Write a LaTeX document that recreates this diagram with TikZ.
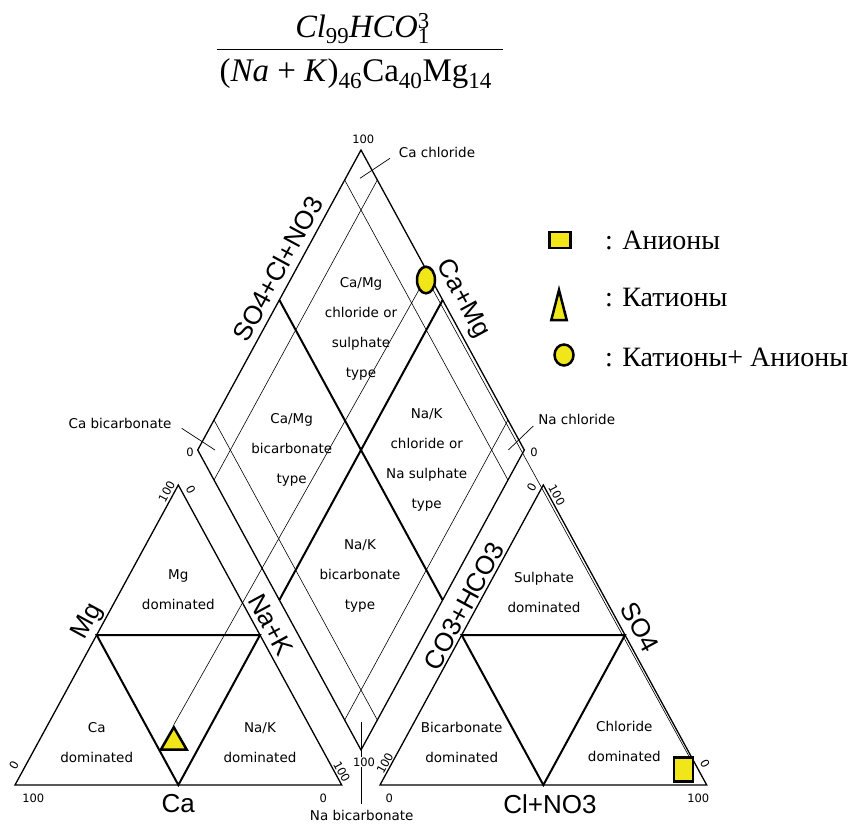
\documentclass[tikz,border=0pt]{standalone}
\usepackage{fontspec}
\setmainfont{Liberation Serif}
\newfontfamily\axisfont{Liberation Sans}
\newfontfamily\zonefont{DejaVu Sans}
\usepackage{tikz}
\usetikzlibrary{positioning,calc,shapes.geometric}
\definecolor{markfill}{HTML}{F0E619}

\begin{document}
\begin{tikzpicture}[
      x=1pt,y=-1pt,
      rim/.style={draw=black,line width=1.3pt,line join=miter},
      half/.style={draw=black,line width=2pt},
      tenth/.style={draw=black,line width=0.6pt},
      proj/.style={draw=black,line width=0.6pt},
      lead/.style={draw=black,line width=0.7pt},
      axlabel/.style={font=\axisfont\fontsize{26}{26}\selectfont,inner sep=0pt},
      zone/.style={font=\zonefont\fontsize{13.5}{30}\selectfont,inner sep=0pt,align=center},
      num/.style={font=\zonefont\fontsize{11.5}{11.5}\selectfont,inner sep=1pt},
      callout/.style={font=\zonefont\fontsize{13.5}{13.5}\selectfont,inner sep=1pt},
      datum/.style={draw=black,line width=2.5pt,fill=markfill,inner sep=0pt},
      legtxt/.style={font=\fontsize{28}{28}\selectfont,anchor=west,inner sep=0pt}
    ]
    \useasboundingbox (0,0) rectangle (859,825);

    \node[font=\fontsize{32.5}{32.5}\selectfont,anchor=base] (numer) at (362.5,37.3)
      {\textit{Cl}\textsubscript{99}\textit{HCO}\rlap{\textsuperscript{3}}\textsubscript{1}};
    \node[font=\fontsize{33}{33}\selectfont,anchor=base] (denom) at (355.8,81.7)
      {(\textit{Na} + \textit{K})\textsubscript{46}Ca\textsubscript{40}Mg\textsubscript{14}};
    \coordinate (barL) at (216.7,49.3);
    \coordinate (barR) at (503.3,49.3);
    \draw[line width=1pt] (barL) -- (barR);

    \coordinate (cL) at (15,785);
    \coordinate (cR) at (341.7,785);
    \coordinate (cT) at (178.3,485);
    \coordinate (aL) at (380,785);
    \coordinate (aR) at (706.7,785);
    \coordinate (aT) at (543.3,485);
    \coordinate (dT) at (361,150);
    \coordinate (dB) at (361,750);
    \coordinate (dL) at (197.7,450);
    \coordinate (dR) at (524.3,450);

    \foreach \k in {0.1,0.9} {
      \draw[tenth] ($(dL)!\k!(dT)$) -- ($(dB)!\k!(dR)$);
      \draw[tenth] ($(dL)!\k!(dB)$) -- ($(dT)!\k!(dR)$);
    }
    \draw[half] ($(dL)!0.5!(dT)$) -- ($(dB)!0.5!(dR)$);
    \draw[half] ($(dL)!0.5!(dB)$) -- ($(dT)!0.5!(dR)$);
    \draw[rim] (dT) -- (dR) -- (dB) -- (dL) -- cycle;

    \draw[half] ($(cL)!.5!(cT)$) -- ($(cR)!.5!(cT)$) -- ($(cL)!.5!(cR)$) -- cycle;
    \draw[rim] (cL) -- (cR) -- (cT) -- cycle;
    \draw[half] ($(aL)!.5!(aT)$) -- ($(aR)!.5!(aT)$) -- ($(aL)!.5!(aR)$) -- cycle;
    \draw[rim] (aL) -- (aR) -- (aT) -- cycle;

    \node[zone] (zcacl) at (361,328.7) {Ca/Mg\\chloride or\\sulphate\\type};
    \node[zone] (zcabic) at (291.7,450) {Ca/Mg\\bicarbonate\\type};
    \node[zone] (znacl) at (426.7,459.7) {Na/K\\chloride or\\Na sulphate\\type};
    \node[zone] (znabic) at (360,575.5) {Na/K\\bicarbonate\\type};
    \node[zone] (zmg) at (178.3,590) {Mg\\dominated};
    \node[zone] (zca) at (96.7,743) {Ca\\dominated};
    \node[zone] (znak) at (260,743) {Na/K\\dominated};
    \node[zone] (zso) at (544,592) {Sulphate\\dominated};
    \node[zone] (zbic) at (461.7,742.5) {Bicarbonate\\dominated};
    \node[zone] (zcl) at (624.3,741.3) {Chloride\\dominated};

    \node[axlabel,rotate=61.5] (xanion) at (278,269) {SO4+Cl+NO3};
    \node[axlabel,rotate=-61.5] (xcation) at (462.5,299) {Ca+Mg};
    \node[axlabel,rotate=61.5] (xmg) at (88,622) {Mg};
    \node[axlabel,rotate=-61.5] (xnak) at (271,625) {Na+K};
    \node[axlabel,rotate=61.5] (xcarb) at (464,606) {CO3+HCO3};
    \node[axlabel,rotate=-61.5] (xso) at (640,627) {SO4};
    \node[axlabel] (xca) at (178.3,804) {Ca};
    \node[axlabel] (xcl) at (550,804) {Cl+NO3};

    \node[num] (nTop) at (363.3,139) {100};
    \node[num] (nLft) at (190,452) {0};
    \node[num] (nRgt) at (534,452) {0};
    \node[num,rotate=61.5] (c100a) at (166.7,491.7) {100};
    \node[num,rotate=-61.5] (c0a) at (190.7,490) {0};
    \node[num,rotate=61.5] (c0b) at (14,765) {0};
    \node[num] (c100b) at (33.3,798.3) {100};
    \node[num] (c0c) at (323.3,798.3) {0};
    \node[num,rotate=-61.5] (c100c) at (341.7,771.7) {100};
    \node[num,rotate=61.5] (a0a) at (531.7,487) {0};
    \node[num,rotate=-61.5] (a100a) at (556.7,495) {100};
    \node[num,rotate=61.5] (a100b) at (385,763.3) {100};
    \node[num] (a0b) at (389.3,798.3) {0};
    \node[num] (a100c) at (698.3,798.3) {100};
    \node[num,rotate=-61.5] (a0c) at (705,763.3) {0};

    \node[callout] (tcacl) at (437,152.7) {Ca chloride};
    \node[callout] (tcabic) at (120,423) {Ca bicarbonate};
    \node[callout] (tnacl) at (576.7,419) {Na chloride};
    \node[callout] (tnabic) at (361.7,815) {Na bicarbonate};
    \coordinate (pcacl1) at (390,158.3);
    \coordinate (pcacl2) at (360,178.3);
    \coordinate (pcabic1) at (181.7,428.3);
    \coordinate (pcabic2) at (215,450);
    \coordinate (pnacl1) at (533.3,426);
    \coordinate (pnacl2) at (508.3,450);
    \coordinate (pnabic1) at (361.7,721.7);
    \coordinate (pnabic2) at (361.7,804);
    \draw[lead] (pcacl1) -- (pcacl2);
    \draw[lead] (pcabic1) -- (pcabic2);
    \draw[lead] (pnacl1) -- (pnacl2);
    \draw[lead] (pnabic1) -- (pnabic2);
    \node[num,fill=white] (nBot) at (364,762) {100};

    \node[datum,ellipse,minimum width=18,minimum height=26.6] (ion) at (426,280) {};
    \node[datum,regular polygon,regular polygon sides=3,minimum size=30] (cat) at (173.8,742.2) {};
    \node[datum,rectangle,minimum width=19,minimum height=24] (an) at (683.3,769.7) {};
    \draw[proj] (cat.north) -- (ion.south west);
    \draw[proj] ([xshift=-5pt]an.north east) -- (ion.south east);

    \node[datum,rectangle,minimum width=21,minimum height=16] (legsq) at (560,240) {};
    \coordinate (legtriT) at (559,290);
    \coordinate (legtriR) at (566.7,320);
    \coordinate (legtriL) at (551.3,320);
    \draw[datum] (legtriT) -- (legtriR) -- (legtriL) -- cycle;
    \node[datum,ellipse,minimum width=19,minimum height=21] (legov) at (564,355) {};
    \node[legtxt] (legsqtxt) at (605,240) {: Анионы};
    \node[legtxt] (legtritxt) at (605,298) {: Катионы};
    \node[legtxt] (legovtxt) at (605,357) {: Катионы+ Анионы};
  \end{tikzpicture}
\end{document}
